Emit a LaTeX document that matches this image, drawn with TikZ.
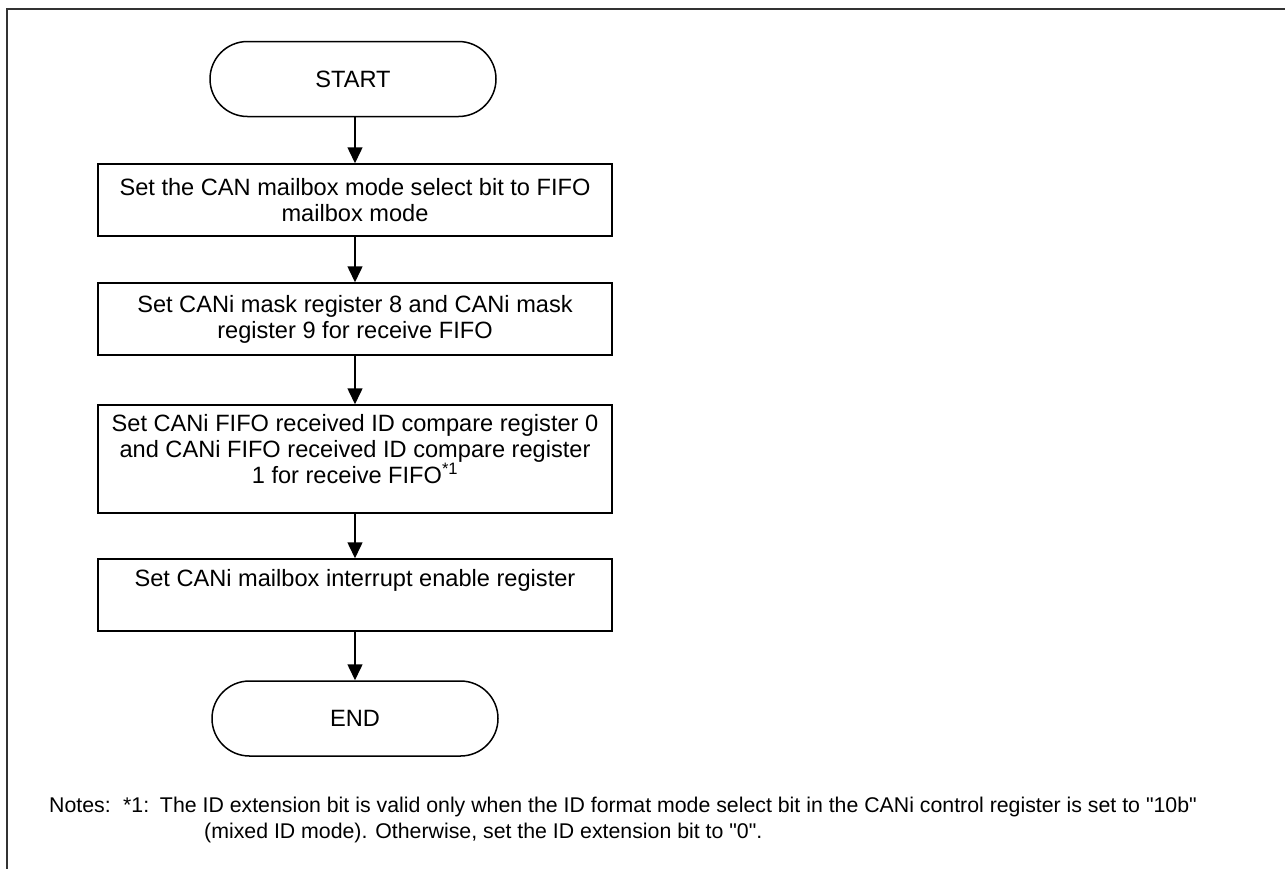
\documentclass[tikz,border=0pt]{standalone}
\usepackage{fontspec}
\setmainfont{Liberation Sans}[Ligatures=TeXOff]
\usetikzlibrary{arrows.meta}
\tikzset{
  base/.style={draw=black, line width=1.5pt, align=center, inner sep=0pt,
    font=\fontsize{23.6}{26}\selectfont},
  term/.style={base, rounded corners=37.5pt, minimum width=286pt, minimum height=75pt},
  procbox/.style={base, minimum width=514pt},
  flow/.style={draw=black, line width=1.5pt, -{Triangle[width=15pt,length=16pt]}},
  note/.style={anchor=base west, inner sep=0pt, font=\fontsize{21.3}{26}\selectfont},
}
\begin{document}
\begin{tikzpicture}[x=1pt, y=-1pt]
\useasboundingbox (0,0) rectangle (1285,868);
% outer frame (right and bottom edges fall outside the picture)
\draw[line width=1.2pt, draw=black!80] (1290,9) -- (7,9) -- (7,875);

\node[term] (start) at (353,79) {START};
\node[procbox, minimum height=72pt] (b1) at (355,200)
  {Set the CAN mailbox mode select bit to FIFO\\mailbox mode};
\node[procbox, minimum height=72pt] (b2) at (355,319)
  {Set CANi mask register 8 and CANi mask\\register 9 for receive FIFO};
\node[procbox, minimum height=108pt] (b3) at (355,459)
  {Set CANi FIFO received ID compare register 0\\and CANi FIFO received ID compare register\\1 for receive FIFO\textsuperscript{*1}\\[-6pt]};
\node[procbox, minimum height=72pt] (b4) at (355,595)
  {Set CANi mailbox interrupt enable register\\\strut};
\node[term] (end) at (355,718.5) {END};

\draw[flow] (start.south -| b1.north) -- (b1.north);
\draw[flow] (b1.south) -- (b2.north);
\draw[flow] (b2.south) -- (b3.north);
\draw[flow] (b3.south) -- (b4.north);
\draw[flow] (b4.south) -- (end.north);

\node[note] (n0) at (49,812) {Notes:};
\node[note] (n1) at (123,812) {*1:};
\node[note, anchor=base east] (n2) at (1197,812) {The ID extension bit is valid only when the ID format mode select bit in the CANi control register is set to "10b"};
\node[note] (n3) at (204,838) {(mixed ID mode). Otherwise, set the ID extension bit to "0".};
\end{tikzpicture}
\end{document}
